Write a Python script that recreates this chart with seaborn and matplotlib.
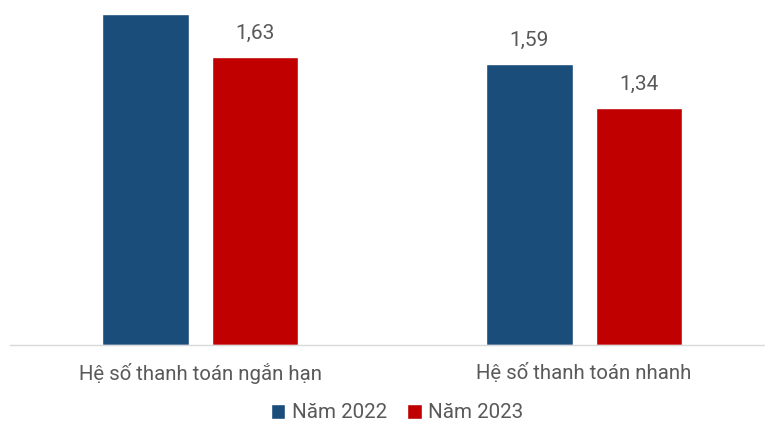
import matplotlib
matplotlib.use("Agg")
import matplotlib.pyplot as plt
import seaborn as sns
import pandas as pd

categories = ["Hệ số thanh toán ngắn hạn", "Hệ số thanh toán nhanh"]
series_names = ["Năm 2022", "Năm 2023"]
values_2022 = [1.87, 1.59]
values_2023 = [1.63, 1.34]
colors = ["#1A4D7A", "#C00000"]

df = pd.DataFrame({
    "cat": categories * 2,
    "series": [series_names[0]] * 2 + [series_names[1]] * 2,
    "val": values_2022 + values_2023,
})

sns.set_theme(style="white")
plt.rcParams["font.family"] = ["Roboto", "DejaVu Sans"]

fig = plt.figure(figsize=(7.65, 4.25), dpi=100)
ax = fig.add_axes([10 / 765, 80 / 425, 755 / 765, 345 / 425])

sns.barplot(data=df, x="cat", y="val", hue="series", palette=colors,
            width=0.569, gap=0.211, ax=ax, legend=True, saturation=1)

ylim_top = 1.952
for cont in ax.containers:
    labels = []
    for v in cont.datavalues:
        # the label of a bar reaching the top edge falls outside the picture
        labels.append("" if v > ylim_top * 0.93 else f"{v:.2f}".replace(".", ","))
    ax.bar_label(cont, labels=labels, padding=10, fontsize=15, color="#595959")

ax.set_xlim(-0.495, 1.471)
ax.set_ylim(0, ylim_top)
ax.set_xlabel("")
ax.set_ylabel("")
ax.set_yticks([])
ax.tick_params(axis="x", length=0, pad=13, labelsize=14.7, labelcolor="#595959")
for s in ["top", "left", "right"]:
    ax.spines[s].set_visible(False)
ax.spines["bottom"].set_color("#D9D9D9")
ax.spines["bottom"].set_linewidth(1)

handles, labels = ax.get_legend_handles_labels()
ax.legend_.remove()
fig.legend(handles, labels, loc="center", bbox_to_anchor=(397 / 765, 1 - 413 / 425),
           ncol=2, frameon=False, fontsize=14.8, labelcolor="#595959",
           handlelength=0.7, handleheight=0.7, handletextpad=0.3, columnspacing=1.0)

fig.savefig("out.png", dpi=100)
